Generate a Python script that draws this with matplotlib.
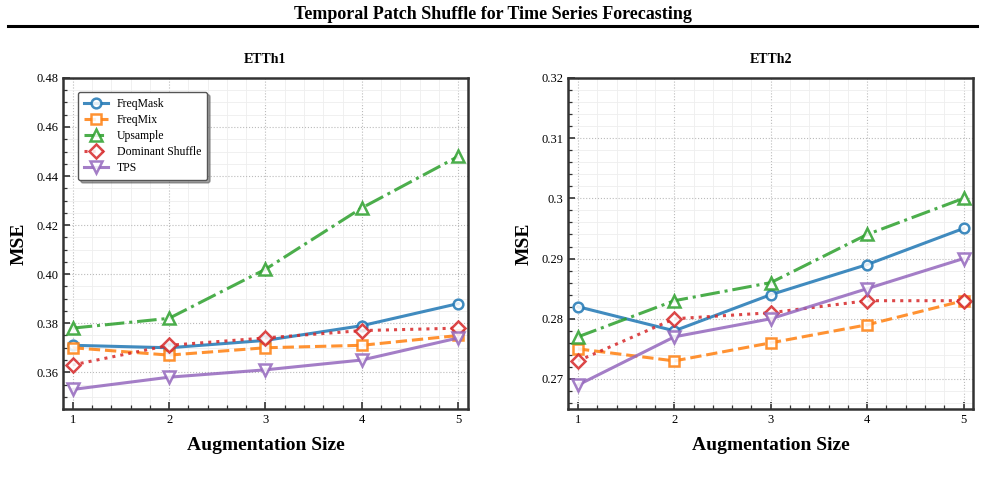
import numpy as np
import matplotlib
matplotlib.use('Agg')
import matplotlib.pyplot as plt
from matplotlib.ticker import MultipleLocator, FuncFormatter
from matplotlib.lines import Line2D

plt.rcParams['font.family'] = ['Liberation Serif', 'DejaVu Serif']

aug_size = [1, 2, 3, 4, 5]
methods = ['FreqMask', 'FreqMix', 'Upsample', 'Dominant Shuffle', 'TPS']

etth1 = {
    'FreqMask': [0.371, 0.370, 0.373, 0.379, 0.388],
    'FreqMix': [0.370, 0.367, 0.370, 0.371, 0.375],
    'Upsample': [0.378, 0.382, 0.402, 0.427, 0.448],
    'Dominant Shuffle': [0.363, 0.371, 0.374, 0.377, 0.378],
    'TPS': [0.353, 0.358, 0.361, 0.365, 0.374],
}
etth2 = {
    'FreqMask': [0.282, 0.278, 0.284, 0.289, 0.295],
    'FreqMix': [0.275, 0.273, 0.276, 0.279, 0.283],
    'Upsample': [0.277, 0.283, 0.286, 0.294, 0.300],
    'Dominant Shuffle': [0.273, 0.280, 0.281, 0.283, 0.283],
    'TPS': [0.269, 0.277, 0.280, 0.285, 0.290],
}

colors = ['#1f77b4', '#ff7f0e', '#2ca02c', '#d62728', '#9467bd']
markers = ['o', 's', '^', 'D', 'v']
styles = ['-', '--', '-.', ':', '-']
msizes = [7, 7, 8, 7, 8]

fig = plt.figure(figsize=(9.85, 4.87), dpi=100)
fig.text(0.5, 0.971, 'Temporal Patch Shuffle for Time Series Forecasting',
         ha='center', va='center', fontsize=13, fontweight='bold')
fig.add_artist(Line2D([0.008, 0.992], [0.947, 0.947], color='black', lw=2.2,
                      transform=fig.transFigure))

ax1 = fig.add_axes([0.064, 0.160, 0.411, 0.680])
ax2 = fig.add_axes([0.577, 0.160, 0.411, 0.680])

panels = [
    (ax1, etth1, 'ETTh1', (0.345, 0.48), 0.02, 0.005, lambda v, p: '%.2f' % v),
    (ax2, etth2, 'ETTh2', (0.265, 0.32), 0.01, 0.002, lambda v, p: '%g' % round(v, 3)),
]

for ax, data, name, ylim, ymaj, ymin, fmt in panels:
    for m, c, mk, ls, ms in zip(methods, colors, markers, styles, msizes):
        ax.plot(aug_size, data[m], color=c, ls=ls, lw=2.2, marker=mk, ms=ms,
                markerfacecolor='white', markeredgewidth=1.8, alpha=0.85, label=m)
    ax.set_xlim(0.9, 5.1)
    ax.set_ylim(*ylim)
    ax.xaxis.set_major_locator(MultipleLocator(1))
    ax.xaxis.set_minor_locator(MultipleLocator(0.2))
    ax.yaxis.set_major_locator(MultipleLocator(ymaj))
    ax.yaxis.set_minor_locator(MultipleLocator(ymin))
    ax.yaxis.set_major_formatter(FuncFormatter(fmt))
    ax.tick_params(which='both', direction='in', labelsize=9, color='#333333')
    ax.tick_params(which='major', length=5, width=1.2)
    ax.tick_params(which='minor', length=3, width=0.9)
    ax.grid(True, which='major', ls=':', lw=0.8, color='#bbbbbb')
    ax.grid(True, which='minor', ls='-', lw=0.6, color='#eeeeee')
    ax.set_axisbelow(True)
    for sp in ax.spines.values():
        sp.set_linewidth(1.8)
        sp.set_color('#333333')
    ax.set_title(name, fontsize=10, fontweight='bold', pad=11)
    ax.set_xlabel('Augmentation Size', fontsize=14, fontweight='bold', labelpad=8)
    ax.set_ylabel('MSE', fontsize=14, fontweight='bold', labelpad=6)

ax1.legend(loc='upper left', bbox_to_anchor=(0.037, 0.958), borderaxespad=0,
           fontsize=8.5, frameon=True, fancybox=True, shadow=True,
           edgecolor='#555555', framealpha=1, handlelength=2.0,
           borderpad=0.5, labelspacing=0.35)

plt.savefig('out.png', dpi=100)
